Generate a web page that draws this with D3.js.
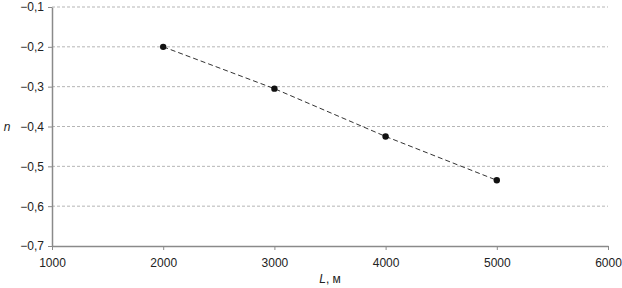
<!DOCTYPE html>
<html>
<head>
<meta charset="utf-8">
<script src="https://cdn.jsdelivr.net/npm/d3@7"></script>
<style>
  body { margin: 0; background: #fff; }
  text { font-family: "Liberation Sans", Arial, sans-serif; }
</style>
</head>
<body>
<div id="chart"></div>
<script>
// Data
const lengths = [2000, 3000, 4000, 5000];
const nValues = [-0.2, -0.305, -0.425, -0.535];
const xTicks = [1000, 2000, 3000, 4000, 5000, 6000];
const yTicks = [-0.1, -0.2, -0.3, -0.4, -0.5, -0.6, -0.7];

const W = 622, H = 288;
const margin = {top: 7, right: 14, bottom: 42, left: 52};
const width = W - margin.left - margin.right,
      height = H - margin.top - margin.bottom;

const svg = d3.select("#chart")
  .append("svg")
    .attr("width", W)
    .attr("height", H)
  .append("g")
    .attr("transform", `translate(${margin.left},${margin.top})`);

const x = d3.scaleLinear().domain([1000, 6000]).range([0, width]);
const y = d3.scaleLinear().domain([-0.7, -0.1]).range([height, 0]);

const fmt = d => (d < 0 ? "\u2212" : "") + Math.abs(d).toFixed(1).replace(".", ",");

// Gridlines (skip the bottom one, that's the axis)
svg.append("g")
  .selectAll("line")
  .data(yTicks.filter(d => d > -0.7))
  .join("line")
    .attr("x1", 0)
    .attr("x2", width)
    .attr("y1", d => y(d))
    .attr("y2", d => y(d))
    .attr("stroke", "#b5b5b5")
    .attr("stroke-width", 1)
    .attr("stroke-dasharray", "3,2");

// X axis
svg.append("g")
    .attr("transform", `translate(0,${height})`)
    .call(d3.axisBottom(x).tickValues(xTicks).tickSize(4).tickSizeOuter(0).tickFormat(d3.format("d")))
    .call(g => g.select(".domain").attr("stroke", "#8a8a8a").attr("stroke-width", 1.5))
    .call(g => g.selectAll(".tick line").attr("stroke", "#8a8a8a"))
    .call(g => g.selectAll("text")
        .attr("fill", "#222")
        .attr("y", 12)
        .style("font-size", "12px"));

// Y axis
svg.append("g")
    .call(d3.axisLeft(y).tickValues(yTicks).tickSize(4).tickSizeOuter(0).tickFormat(fmt))
    .call(g => g.select(".domain").attr("stroke", "#8a8a8a").attr("stroke-width", 1.5))
    .call(g => g.selectAll(".tick line").attr("stroke", "#8a8a8a"))
    .call(g => g.selectAll("text")
        .attr("fill", "#222")
        .attr("x", -8)
        .style("font-size", "12px"));

// Dashed connecting line
const line = d3.line()
    .x((d, i) => x(lengths[i]))
    .y(d => y(d));

svg.append("path")
    .datum(nValues)
    .attr("fill", "none")
    .attr("stroke", "#333")
    .attr("stroke-width", 1)
    .attr("stroke-dasharray", "5,3")
    .attr("d", line);

// Points
svg.append("g")
  .selectAll("circle")
  .data(nValues)
  .join("circle")
    .attr("cx", (d, i) => x(lengths[i]))
    .attr("cy", d => y(d))
    .attr("r", 3.2)
    .attr("fill", "#111");

// Axis titles
const xt = svg.append("text")
    .attr("x", x(3500))
    .attr("y", height + 37)
    .attr("text-anchor", "middle")
    .attr("fill", "#222")
    .style("font-size", "12px");
xt.append("tspan").style("font-style", "italic").text("L");
xt.append("tspan").text(", м");

svg.append("text")
    .attr("x", -margin.left + 7)
    .attr("y", y(-0.4) + 4)
    .attr("text-anchor", "middle")
    .attr("fill", "#222")
    .style("font-size", "12px")
    .style("font-style", "italic")
    .text("n");
</script>
</body>
</html>
